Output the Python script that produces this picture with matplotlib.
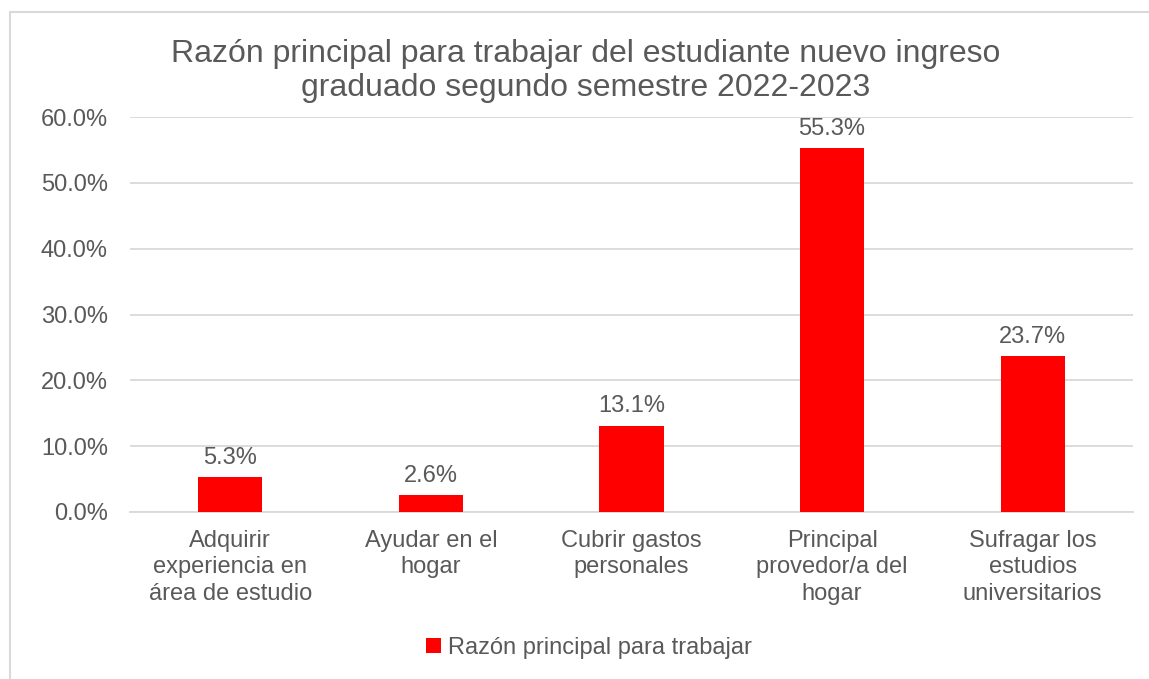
import matplotlib.pyplot as plt
from matplotlib.patches import Rectangle
from matplotlib.ticker import PercentFormatter

plt.rcParams['font.family'] = ['Liberation Sans', 'DejaVu Sans']

# data
categories = ['Adquirir\nexperiencia en\nárea de estudio',
              'Ayudar en el\nhogar',
              'Cubrir gastos\npersonales',
              'Principal\nprovedor/a del\nhogar',
              'Sufragar los\nestudios\nuniversitarios']
values = [5.3, 2.6, 13.1, 55.3, 23.7]
y_ticks = [0, 10, 20, 30, 40, 50, 60]
series_name = 'Razón principal para trabajar'
title = 'Razón principal para trabajar del estudiante nuevo ingreso\ngraduado segundo semestre 2022-2023'

text_color = '#595959'
W, H = 1149, 679

fig = plt.figure(figsize=(W / 100, H / 100), dpi=100)
ax = fig.add_axes([130 / W, 1 - 512 / H, (1133 - 130) / W, (512 - 117) / H])

x = range(len(categories))
bars = ax.bar(x, values, width=0.32, color='#ff0000', label=series_name, zorder=3)
for b, v in zip(bars, values):
    ax.annotate(f'{v:.1f}%', (b.get_x() + b.get_width() / 2, v), xytext=(0, 6),
                textcoords='offset points', ha='center', va='bottom',
                fontsize=17, color=text_color)

ax.set_xlim(-0.5, len(categories) - 0.5)
ax.set_ylim(0, 60)
ax.set_yticks(y_ticks)
ax.yaxis.set_major_formatter(PercentFormatter(decimals=1))
ax.set_xticks(list(x))
ax.set_xticklabels(categories, linespacing=1.26)
ax.tick_params(axis='both', length=0, labelsize=17, colors=text_color)
ax.tick_params(axis='y', pad=16)
ax.tick_params(axis='x', pad=13)
ax.grid(axis='y', color='#d9d9d9', linewidth=1.3, zorder=0)
for s in ['top', 'right', 'left']:
    ax.spines[s].set_visible(False)
ax.spines['bottom'].set_color('#d9d9d9')
ax.spines['bottom'].set_linewidth(1.3)

fig.text(586 / W, 1 - 71 / H, title, ha='center', va='center', fontsize=23,
         color=text_color, linespacing=1.18)

fig.legend(loc='center', bbox_to_anchor=(589 / W, 1 - 648 / H), frameon=False,
           fontsize=17, labelcolor=text_color, handlelength=0.6, handleheight=0.6,
           handletextpad=0.3)

# outer chart border (cut off at right and bottom in the reference)
fig.patches.append(Rectangle((10 / W, -0.1), 1.2, 1.1 - 12 / H, transform=fig.transFigure,
                             fill=False, edgecolor='#d9d9d9', linewidth=1.5))

fig.savefig('out.png', dpi=100)
